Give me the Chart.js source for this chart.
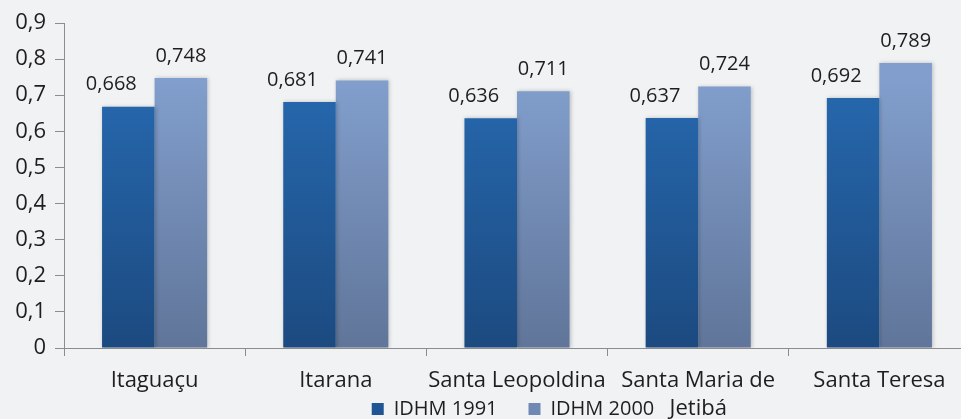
<!DOCTYPE html>
<html>
<head>
<meta charset="utf-8">
<script src="https://cdn.jsdelivr.net/npm/chart.js@4/dist/chart.umd.min.js"></script>
<style>
  html, body { margin: 0; padding: 0; background: #f1f2f4; overflow: hidden; }
  .wrap { position: relative; width: 975px; height: 489px; }
</style>
</head>
<body>
<div class="wrap"><canvas id="idhmChart"></canvas></div>
<script>
// IDHM por município

const municipios = ['Itaguaçu', 'Itarana', 'Santa Leopoldina', ['Santa Maria de', 'Jetibá'], 'Santa Teresa'];
const idhm1991 = [0.668, 0.681, 0.636, 0.637, 0.692];
const idhm2000 = [0.748, 0.741, 0.711, 0.724, 0.789];
const yTicks = [0, 0.1, 0.2, 0.3, 0.4, 0.5, 0.6, 0.7, 0.8, 0.9];

const FONT = "'Open Sans', sans-serif";
const AXIS_COLOR = '#8c8c8c';
const TEXT_COLOR = '#1e1e1e';

function fmt(v) {
  return v === 0 ? '0' : String(v).replace('.', ',');
}

function barGradient(top, bottom) {
  return function(context) {
    const { ctx, chartArea } = context.chart;
    if (!chartArea) return bottom;
    const g = ctx.createLinearGradient(0, chartArea.bottom, 0, chartArea.top + 60);
    g.addColorStop(0, bottom);
    g.addColorStop(1, top);
    return g;
  };
}

/**
 * Value labels above bars (comma decimals)
 */
const valueLabels = {
  id: 'valueLabels',
  afterDatasetsDraw(chart) {
    const ctx = chart.ctx;
    ctx.save();
    ctx.font = '20px ' + FONT;
    ctx.fillStyle = TEXT_COLOR;
    ctx.textAlign = 'center';
    ctx.textBaseline = 'bottom';
    chart.data.datasets.forEach((ds, i) => {
      const meta = chart.getDatasetMeta(i);
      const dx = i === 0 ? -17 : 0;
      meta.data.forEach((bar, j) => {
        ctx.fillText(ds.data[j].toFixed(3).replace('.', ','), bar.x + dx, bar.y - 12);
      });
    });
    ctx.restore();
  }
};

/**
 * Soft shadow behind bars
 */
const barShadow = {
  id: 'barShadow',
  beforeDatasetsDraw(chart) {
    const ctx = chart.ctx;
    ctx.save();
    ctx.shadowColor = 'rgba(0, 0, 0, 0.22)';
    ctx.shadowBlur = 4;
    ctx.shadowOffsetX = 1;
    ctx.shadowOffsetY = 0;
  },
  afterDatasetsDraw(chart) {
    chart.ctx.restore();
  }
};

/**
 * Legend sits on the second row of the category labels (as in the original)
 */
const legendOverlap = {
  id: 'legendOverlap',
  afterLayout(chart) {
    const lg = chart.legend;
    if (!lg) return;
    const h = lg.height;
    lg.top = chart.chartArea.bottom + 20;
    lg.bottom = lg.top + h;
    lg.left -= 4;
    lg.right -= 4;
  }
};

const ctx = document.getElementById('idhmChart').getContext('2d');

new Chart(ctx, {
  type: 'bar',
  data: {
    labels: municipios,
    datasets: [{
      label: 'IDHM 1991',
      data: idhm1991,
      backgroundColor: barGradient('#2668ae', '#1c4a80'),
      borderWidth: 0,
      categoryPercentage: 0.58,
      barPercentage: 1.0
    }, {
      label: 'IDHM 2000',
      data: idhm2000,
      backgroundColor: barGradient('#819ecc', '#607599'),
      borderWidth: 0,
      categoryPercentage: 0.58,
      barPercentage: 1.0
    }]
  },
  options: {
    responsive: true,
    maintainAspectRatio: false,
    animation: false,
    layout: {
      padding: { top: 23, left: 0, right: 5, bottom: 0 }
    },
    plugins: {
      tooltip: { enabled: false },
      legend: {
        position: 'bottom',
        fullSize: false,
        labels: {
          color: TEXT_COLOR,
          font: { family: FONT, size: 20 },
          boxWidth: 12,
          boxHeight: 12,
          padding: 31,
          generateLabels(chart) {
            return chart.data.datasets.map((ds, i) => ({
              text: ds.label,
              fillStyle: i === 0 ? '#1f5595' : '#7088b4',
              strokeStyle: 'transparent',
              lineWidth: 0,
              datasetIndex: i,
              fontColor: TEXT_COLOR
            }));
          }
        }
      }
    },
    scales: {
      x: {
        offset: true,
        border: { display: true, color: AXIS_COLOR, width: 1 },
        grid: {
          display: true,
          offset: true,
          drawOnChartArea: false,
          drawTicks: true,
          tickLength: 8,
          color: AXIS_COLOR
        },
        ticks: {
          color: TEXT_COLOR,
          font: { family: FONT, size: 22, lineHeight: 1.3 },
          padding: 10,
          maxRotation: 0,
          autoSkip: false
        },
        afterFit(scale) {
          scale.height = 80;
        }
      },
      y: {
        min: 0,
        max: 0.9,
        border: { display: true, color: AXIS_COLOR, width: 1 },
        grid: {
          display: true,
          drawOnChartArea: false,
          drawTicks: true,
          tickLength: 9,
          color: AXIS_COLOR
        },
        afterBuildTicks(scale) {
          scale.ticks = yTicks.map(v => ({ value: v }));
        },
        ticks: {
          color: TEXT_COLOR,
          font: { family: FONT, size: 22 },
          padding: 9,
          callback: v => fmt(Math.round(v * 10) / 10)
        },
        afterFit(scale) {
          scale.width = 64;
        }
      }
    }
  },
  plugins: [barShadow, valueLabels, legendOverlap]
});
</script>
</body>
</html>
